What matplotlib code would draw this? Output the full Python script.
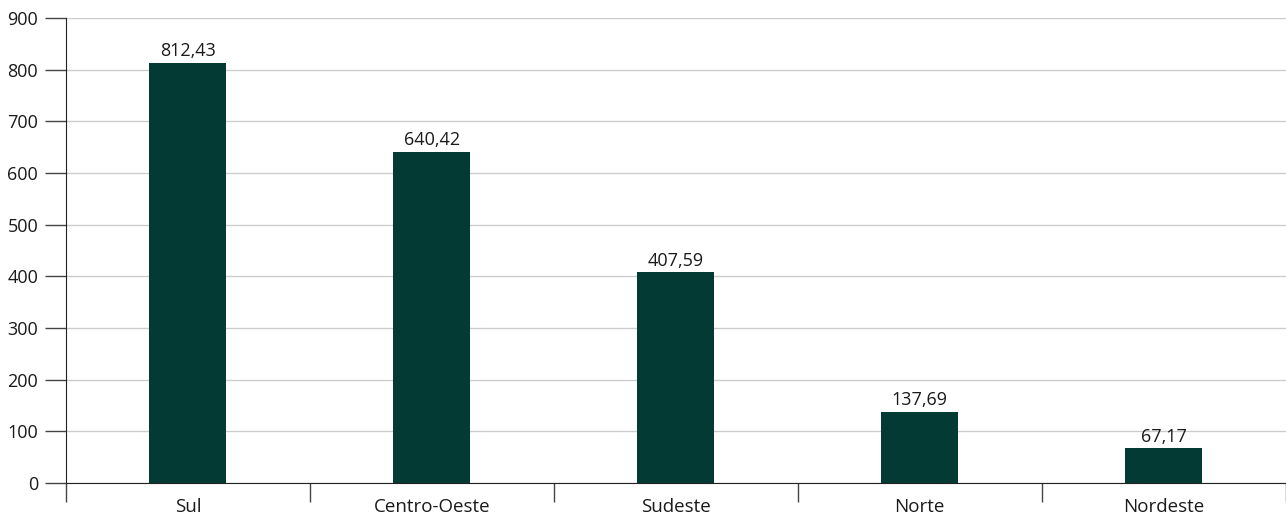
import matplotlib.pyplot as plt

regioes = ['Sul', 'Centro-Oeste', 'Sudeste', 'Norte', 'Nordeste']
valores = [812.43, 640.42, 407.59, 137.69, 67.17]
y_ticks = [0, 100, 200, 300, 400, 500, 600, 700, 800, 900]

plt.rcParams['font.family'] = ['Open Sans', 'DejaVu Sans']

fig = plt.figure(figsize=(12.86, 5.2), dpi=100)
ax = fig.add_axes([66 / 1286, 37 / 520, 1219.5 / 1286, 465 / 520])

x = list(range(len(regioes)))
bars = ax.bar(x, valores, width=0.316, color='#033b34', zorder=3)

for b, v in zip(bars, valores):
    txt = ('%.2f' % v).replace('.', ',')
    ax.annotate(txt, (b.get_x() + b.get_width() / 2, v), xytext=(0, 2),
                textcoords='offset points', ha='center', va='bottom',
                fontsize=13, color='#1a1a1a')

ax.set_xlim(-0.5, len(regioes) - 0.5)
ax.set_ylim(0, 900)
ax.set_yticks(y_ticks)
ax.set_yticklabels([str(t) for t in y_ticks], fontsize=13, color='#1a1a1a')
ax.set_xticks(x)
ax.set_xticklabels(regioes, fontsize=13.5, color='#1a1a1a')
ax.set_xticks([i - 0.5 for i in range(len(regioes) + 1)], minor=True)

ax.tick_params(axis='x', which='major', length=0, pad=11)
ax.tick_params(axis='x', which='minor', length=14, width=1, color='#444444')
ax.tick_params(axis='y', length=15, width=1, color='#444444', pad=5)

ax.yaxis.grid(True, color='#cccccc', linewidth=1, zorder=0)
ax.set_axisbelow(True)
for s in ['top', 'right']:
    ax.spines[s].set_visible(False)
ax.spines['left'].set_color('#222222')
ax.spines['bottom'].set_color('#222222')

plt.savefig('out.png', dpi=100)
